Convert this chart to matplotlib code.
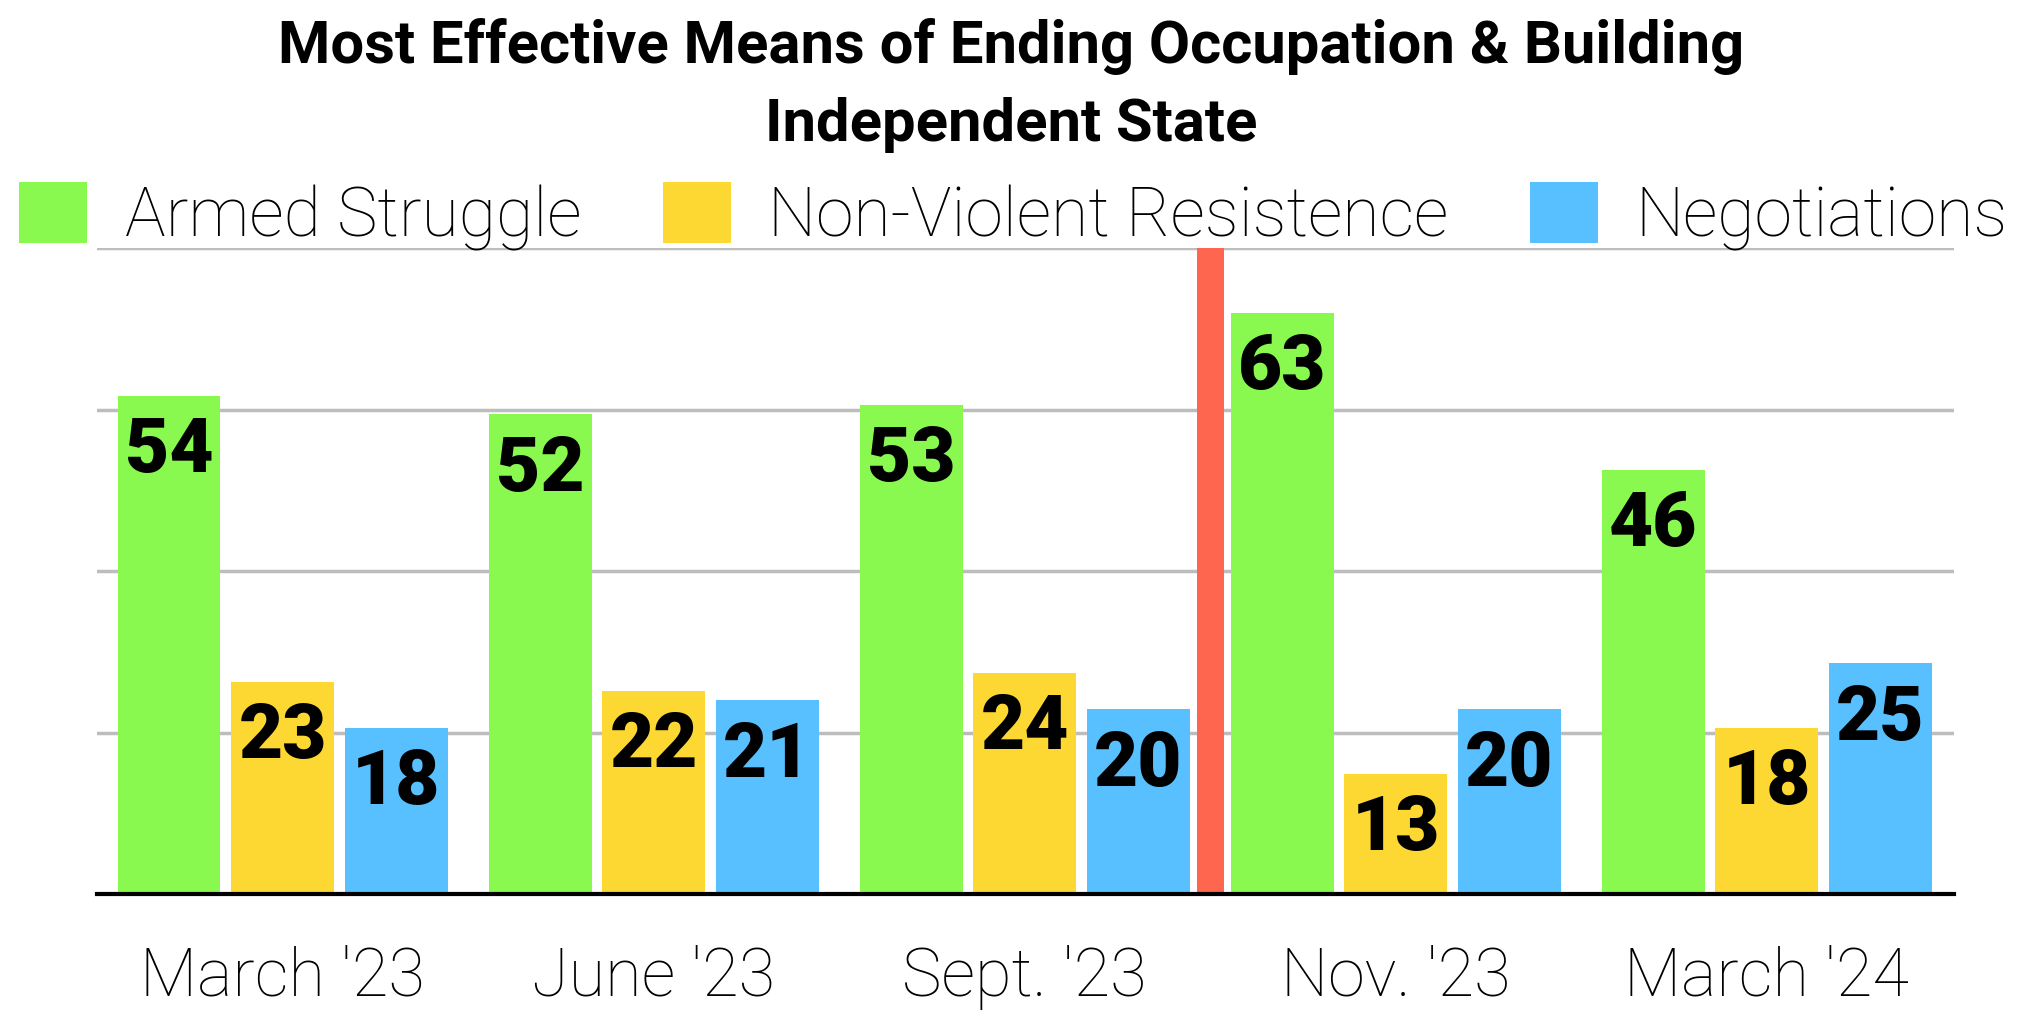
import numpy as np
import matplotlib.pyplot as plt
from matplotlib.patches import Patch

# survey rounds and answers (%)
periods = ["March '23", "June '23", "Sept. '23", "Nov. '23", "March '24"]
armed = [54, 52, 53, 63, 46]
nonviolent = [23, 22, 24, 13, 18]
negotiations = [18, 21, 20, 20, 25]
series_names = ["Armed Struggle", "Non-Violent Resistence", "Negotiations"]
divider_value = 70   # red marker between Sept. '23 and Nov. '23

colors = ["#89F94F", "#FED832", "#58C0FE"]
red = "#FE6650"

fig = plt.figure(figsize=(20.23, 10.13), dpi=100)
ax = fig.add_axes([0.048, 0.1175, 0.918, 0.6375])

x = np.arange(len(periods))
w = 0.277
off = 0.306

for k, vals in enumerate([armed, nonviolent, negotiations]):
    bars = ax.bar(x + (k - 1) * off, vals, width=w, color=colors[k], zorder=2)
    for b, v in zip(bars, vals):
        ax.annotate(str(v), (b.get_x() + b.get_width() / 2, v),
                    xytext=(0, -14), textcoords="offset points",
                    ha="center", va="top", fontsize=55, fontweight="heavy",
                    family="Roboto", color="black", zorder=3)

# divider bar
ax.bar((x[2] + x[3]) / 2, divider_value, width=0.073, color=red, zorder=2)

ax.set_xlim(-0.5, 4.505)
ax.set_ylim(0, 70)
ax.set_yticks(np.arange(0, 70.1, 17.5))
ax.yaxis.grid(True, color="#bdbdbd", linewidth=2.5, zorder=0)
ax.set_axisbelow(True)
ax.tick_params(axis="y", left=False, labelleft=False)
ax.set_xticks(x)
ax.set_xticklabels(periods, fontsize=48, family="Roboto", fontweight="light", color="black")
ax.tick_params(axis="x", length=0, pad=37)
for s in ["top", "right", "left"]:
    ax.spines[s].set_visible(False)
ax.spines["bottom"].set_linewidth(3)
ax.spines["bottom"].set_zorder(4)

fig.suptitle("Most Effective Means of Ending Occupation & Building\nIndependent State",
             y=0.982, fontsize=43, fontweight="bold", family="Roboto", linespacing=1.5)

handles = [Patch(facecolor=c) for c in colors]
fig.legend(handles, series_names, loc="upper left", bbox_to_anchor=(0.0095, 0.82),
           ncol=3, frameon=False, prop={"family": "Roboto", "weight": "light", "size": 49},
           handlelength=1.0, handleheight=1.0, handletextpad=0.55, columnspacing=1.2,
           borderaxespad=0, borderpad=0)

fig.savefig("out.png", dpi=100)
